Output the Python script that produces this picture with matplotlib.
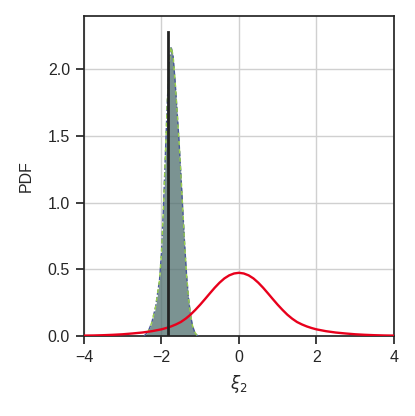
import numpy as np
import matplotlib
matplotlib.use("Agg")
import matplotlib.pyplot as plt

plt.rcParams['font.family'] = ['Liberation Sans', 'DejaVu Sans']
plt.rcParams['mathtext.fontset'] = 'dejavusans'

# Prior PDF (red), right half values; left half mirrors these readings
prior_x_pos = [0.0, 0.125, 0.25, 0.375, 0.5, 0.625, 0.75, 0.875, 1.0, 1.125, 1.25, 1.375, 1.5, 1.625, 1.75, 1.875,
               2.0, 2.25, 2.5, 2.75, 3.0, 3.25, 3.5, 3.75, 4.0]
prior_y_pos = [0.474, 0.469, 0.455, 0.432, 0.40, 0.362, 0.32, 0.277, 0.235, 0.196, 0.16, 0.13, 0.105, 0.087, 0.072, 0.06,
               0.05, 0.036, 0.026, 0.019, 0.013, 0.009, 0.006, 0.004, 0.003]
prior_x = [-v for v in prior_x_pos[:0:-1]] + prior_x_pos
prior_y = prior_y_pos[:0:-1] + prior_y_pos

# Posterior PDF (filled)
post_x = [-2.45, -2.35, -2.25, -2.15, -2.05, -2.00, -1.95, -1.90, -1.85, -1.80, -1.75, -1.70, -1.65, -1.60,
          -1.55, -1.50, -1.45, -1.40, -1.35, -1.30, -1.25, -1.20, -1.15, -1.10, -1.05]
post_y = [0.0, 0.03, 0.10, 0.22, 0.42, 0.62, 0.95, 1.35, 1.75, 2.05, 2.17, 2.10, 1.92, 1.70,
          1.48, 1.22, 0.95, 0.68, 0.45, 0.28, 0.16, 0.08, 0.035, 0.01, 0.0]

true_value = -1.84
true_height = 2.28

fig = plt.figure(figsize=(4.15, 4.16), dpi=100)
ax = fig.add_axes([0.2024, 0.1923, 0.949 - 0.2024, 0.9615 - 0.1923])

ax.grid(True, color='#d0d0d0', linewidth=1.0, zorder=0)
ax.set_axisbelow(True)

ax.fill_between(post_x, post_y, 0, color='#4f6f6e', alpha=0.75, linewidth=0, zorder=2)
ax.plot(post_x, post_y, color='#4a5a9a', linestyle='--', linewidth=1.0, zorder=3)
ax.plot(post_x, post_y, color='#9ad14a', linestyle=(3, (3, 3)), linewidth=1.0, zorder=3)

ax.plot(prior_x, prior_y, color='#e8001c', linewidth=1.7, zorder=4)
ax.plot([true_value, true_value], [0, true_height], color='#222222', linewidth=2.0, zorder=5)

ax.set_xlim(-4, 4)
ax.set_ylim(0, 2.4)
ax.set_xticks([-4, -2, 0, 2, 4])
ax.set_yticks([0.0, 0.5, 1.0, 1.5, 2.0])
ax.set_yticklabels(['0.0', '0.5', '1.0', '1.5', '2.0'])
ax.set_xticklabels(['\u22124', '\u22122', '0', '2', '4'])

for s in ax.spines.values():
    s.set_color('#262626')
    s.set_linewidth(1.25)
ax.tick_params(direction='out', length=6, width=1.25, color='#262626', labelsize=11.5, labelcolor='#262626', pad=4)

ax.set_xlabel(r'$\xi_2$', fontsize=12, color='#262626', labelpad=6)
ax.set_ylabel('PDF', fontsize=11.5, color='#262626', labelpad=10)

fig.savefig('out.png', dpi=100)
